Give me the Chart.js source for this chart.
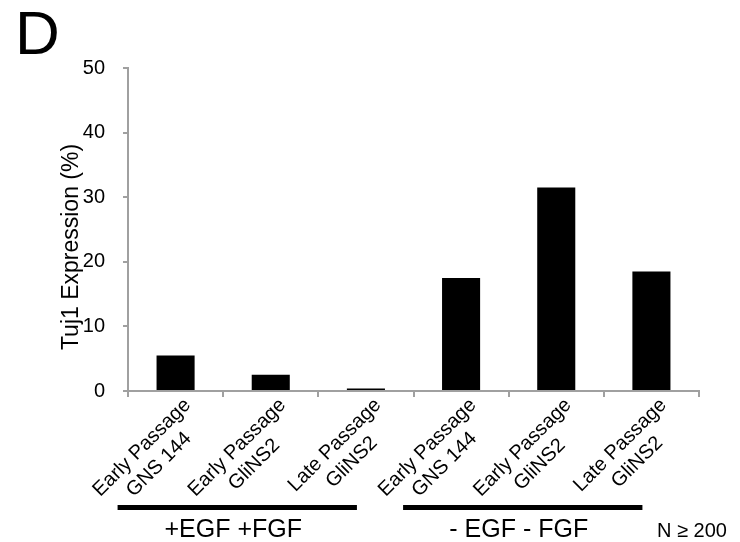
<!DOCTYPE html>
<html>
<head>
<meta charset="utf-8">
<script src="https://cdn.jsdelivr.net/npm/chart.js@4"></script>
<style>body{margin:0;background:#fff}</style>
</head>
<body>
<canvas id="myChart" width="740" height="542"></canvas>
<script>
var line1 = ["Early Passage", "Early Passage", "Late Passage", "Early Passage", "Early Passage", "Late Passage"];
var line2 = ["GNS 144", "GliNS2", "GliNS2", "GNS 144", "GliNS2", "GliNS2"];
var tuj1_values = [5.5, 2.5, 0.4, 17.5, 31.5, 18.5];
var y_ticks = [0, 10, 20, 30, 40, 50];
var groups = ["+EGF +FGF", "- EGF - FGF"];
var group_first = [0, 3];
var group_last = [2, 5];
var y_title = "Tuj1 Expression (%)";
var panel_letter = "D";
var n_note = "N \u2265 200";

var font_name = "'Liberation Sans', Arial, sans-serif";
var items = line1.map(function (l, i) { return [l, line2[i]]; });

// labels, group bars and the other bits of text the figure has
var extras = {
	id: "extras",
	afterDraw: function (chart) {
		var ctx = chart.ctx;
		var x = chart.scales.x;
		var y = chart.scales.y;
		var base = y.getPixelForValue(0);
		ctx.save();
		ctx.fillStyle = "#000";

		// rotated two-line category labels, lines centred on each other
		ctx.font = "20px " + font_name;
		for (var i = 0; i < items.length; i++) {
			var w = Math.max(ctx.measureText(line1[i]).width, ctx.measureText(line2[i]).width);
			ctx.save();
			ctx.translate(x.getPixelForValue(i) + 5, base + 4);
			ctx.rotate(-Math.PI / 4);
			ctx.textAlign = "center";
			ctx.textBaseline = "top";
			ctx.fillText(line1[i], -w / 2, 0);
			ctx.fillText(line2[i], -w / 2, 24);
			ctx.restore();
		}

		// group bars and names
		for (var g = 0; g < groups.length; g++) {
			var x0 = x.getPixelForValue(group_first[g]) - 58;
			var x1 = x.getPixelForValue(group_last[g]) - 9;
			ctx.fillRect(x0, 505, x1 - x0, 5);
			ctx.font = "25px " + font_name;
			ctx.textAlign = "center";
			ctx.textBaseline = "alphabetic";
			ctx.fillText(groups[g], (x0 + x1) / 2 - 4, 537);
		}

		ctx.font = "20px " + font_name;
		ctx.textAlign = "left";
		ctx.fillText(n_note, 657, 537);

		ctx.font = "62px " + font_name;
		ctx.fillText(panel_letter, 15, 54);

		ctx.save();
		ctx.translate(78, 247);
		ctx.rotate(-Math.PI / 2);
		ctx.font = "23px " + font_name;
		ctx.textAlign = "center";
		ctx.fillText(y_title, 0, 0);
		ctx.restore();

		ctx.restore();
	}
};

var myChart = new Chart(document.getElementById("myChart"), {
	type: "bar",
	data: {
		labels: items,
		datasets: [{
			label: y_title,
			data: tuj1_values,
			backgroundColor: "#000",
			borderWidth: 0,
			barPercentage: 0.4,
			categoryPercentage: 1
		}]
	},
	options: {
		responsive: false,
		animation: false,
		devicePixelRatio: 1,
		layout: { padding: { left: 0, right: 41, top: 68, bottom: 0 } },
		plugins: { legend: { display: false }, tooltip: { enabled: false } },
		scales: {
			x: {
				grid: { drawOnChartArea: false, drawTicks: true, tickLength: 6, color: "#a0a0a0", lineWidth: 2, offset: true },
				border: { color: "#a0a0a0", width: 2 },
				ticks: { display: false },
				afterFit: function (scale) { scale.height = 151; }
			},
			y: {
				min: 0,
				max: 50,
				afterBuildTicks: function (scale) {
					scale.ticks = y_ticks.map(function (v) { return { value: v }; });
				},
				grid: { drawOnChartArea: false, drawTicks: true, tickLength: 5, color: "#a0a0a0", lineWidth: 2 },
				border: { color: "#a0a0a0", width: 2 },
				ticks: { color: "#000", padding: 18, font: { family: font_name, size: 20 } },
				afterFit: function (scale) { scale.width = 128; }
			}
		}
	},
	plugins: [extras]
});
</script>
</body>
</html>
